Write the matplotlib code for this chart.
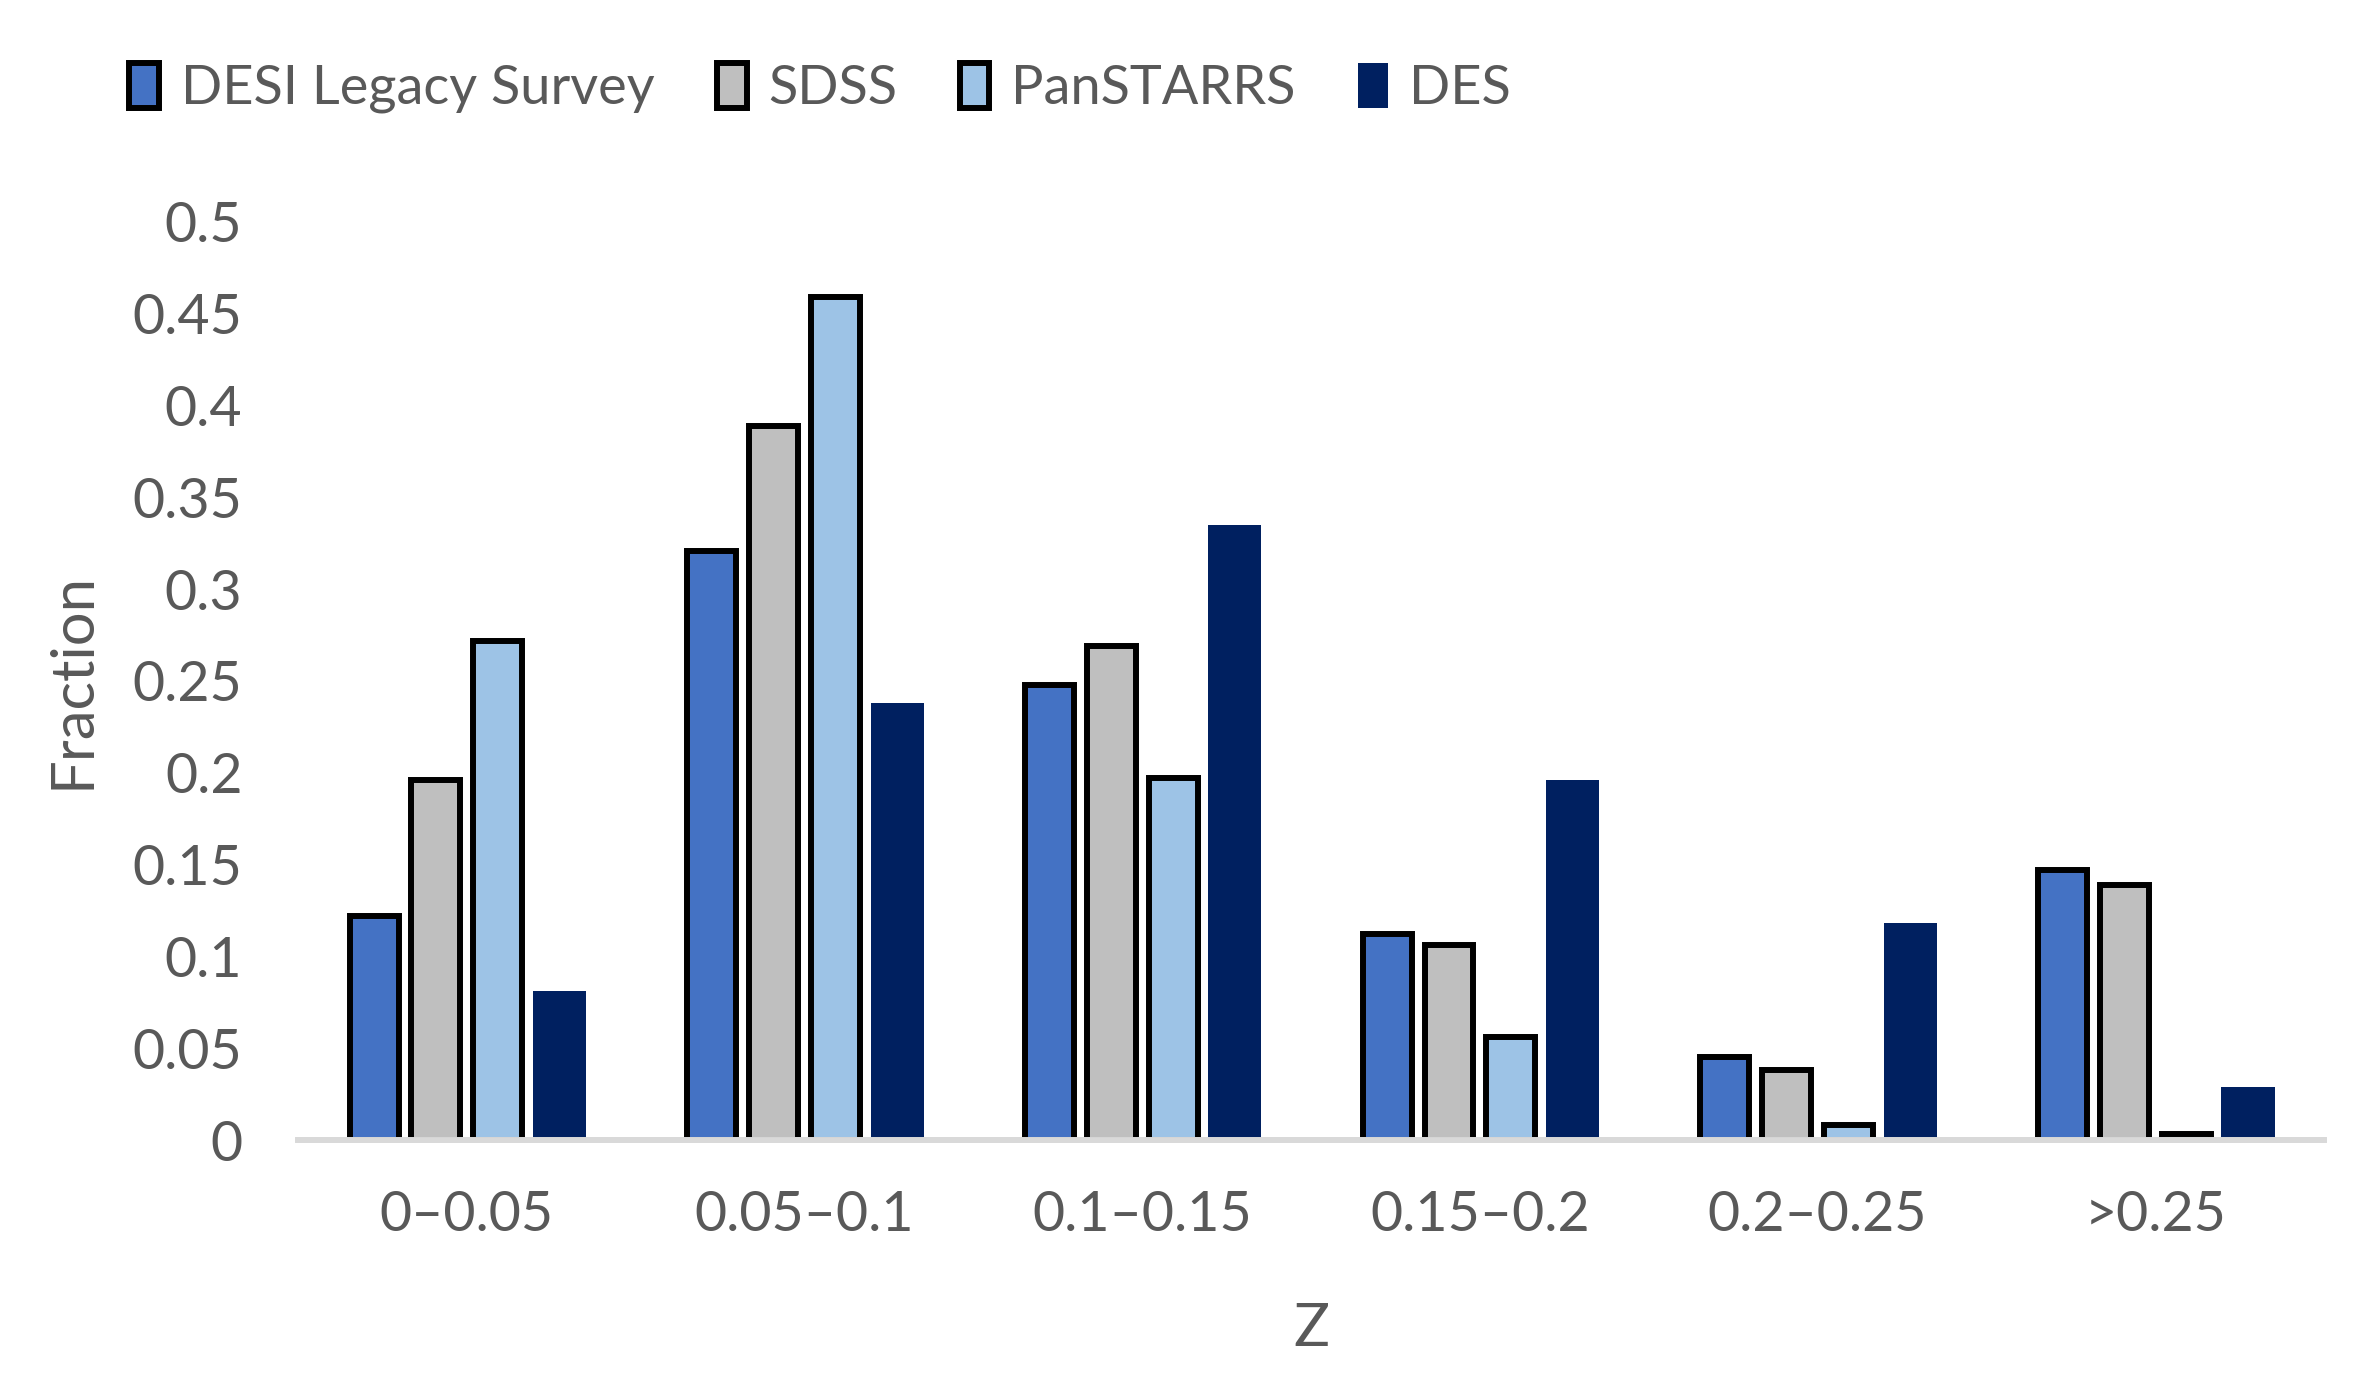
import numpy as np
import matplotlib.pyplot as plt
from matplotlib.patches import Patch

plt.rcParams['font.family'] = ['Lato', 'DejaVu Sans']

bins = ['0–0.05', '0.05–0.1', '0.1–0.15', '0.15–0.2', '0.2–0.25', '>0.25']
desi = [0.122, 0.321, 0.248, 0.112, 0.045, 0.147]
sdss = [0.196, 0.389, 0.269, 0.106, 0.038, 0.139]
panstarrs = [0.272, 0.459, 0.197, 0.056, 0.008, 0.003]
des = [0.081, 0.238, 0.335, 0.196, 0.118, 0.029]

names = ['DESI Legacy Survey', 'SDSS', 'PanSTARRS', 'DES']
colors = ['#4472C4', '#BFBFBF', '#9DC3E6', '#002060']
txt = '#595959'

fig = plt.figure(figsize=(23.74, 13.84), dpi=100)
ax = fig.add_axes([0.1255, 0.1763, 0.8535, 0.6633])

x = np.arange(len(bins))
w = 0.145
step = 0.183
series = [desi, sdss, panstarrs, des]
for i, vals in enumerate(series):
    off = (i - 1.5) * step
    if i < 3:
        ax.bar(x + off, vals, w, color=colors[i], edgecolor='black', linewidth=4.3, zorder=3)
    else:
        ax.bar(x + off, vals, w + 0.012, color=colors[i], zorder=3)

ax.set_xlim(-0.5, 5.5)
ax.set_ylim(0, 0.5)
ax.set_yticks(np.arange(0, 0.51, 0.05))
ax.set_yticklabels(['0', '0.05', '0.1', '0.15', '0.2', '0.25', '0.3', '0.35', '0.4', '0.45', '0.5'])
ax.set_xticks(x)
ax.set_xticklabels(bins)
ax.tick_params(axis='both', length=0, labelsize=40, labelcolor=txt)
ax.tick_params(axis='x', pad=36)
ax.tick_params(axis='y', pad=40)

for s in ['top', 'right', 'left']:
    ax.spines[s].set_visible(False)
ax.spines['bottom'].set_color('#D9D9D9')
ax.spines['bottom'].set_linewidth(4.3)
ax.spines['bottom'].set_zorder(4)

ax.set_xlabel('Z', fontsize=43, color=txt, labelpad=44)
ax.set_ylabel('Fraction', fontsize=43, color=txt, labelpad=24)

handles = [Patch(facecolor=colors[i], edgecolor='black' if i < 3 else colors[i],
                 linewidth=4.3 if i < 3 else 0) for i in range(4)]
fig.legend(handles, names, loc='upper left', bbox_to_anchor=(0.034, 0.99), ncol=4,
           frameon=False, fontsize=39, labelcolor=txt, handlelength=0.55, handleheight=0.9,
           handletextpad=0.4, columnspacing=1.15)

fig.savefig('out.png', dpi=100)
